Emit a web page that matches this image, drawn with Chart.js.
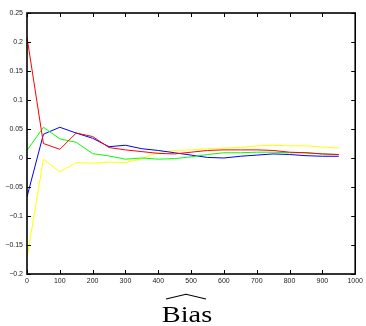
<!DOCTYPE html>
<html lang="en">
<head>
    <meta charset="UTF-8">
    <title>Bias</title>
    <script src="https://cdn.jsdelivr.net/npm/chart.js"></script>
    <style>
        html, body { margin: 0; padding: 0; background: #fff; }
        canvas { display: block; }
    </style>
</head>
<body>
    <canvas id="biasChart" width="366" height="326"></canvas>

    <script>
        // sample sizes (x) and the four bias curves
        const xValues = [0, 50, 100, 150, 200, 250, 300, 350, 400, 450, 500, 550, 600, 650, 700, 750, 800, 850, 900, 950];
        const redSeries = [0.208, 0.025, 0.015, 0.043, 0.037, 0.018, 0.014, 0.011, 0.008, 0.007, 0.010, 0.013, 0.014, 0.014, 0.014, 0.013, 0.010, 0.009, 0.007, 0.006];
        const greenSeries = [0.013, 0.053, 0.033, 0.027, 0.0075, 0.0035, -0.002, 0.000, -0.002, -0.001, 0.002, 0.006, 0.009, 0.009, 0.010, 0.010, 0.009, 0.009, 0.007, 0.006];
        const blueSeries = [-0.067, 0.041, 0.053, 0.043, 0.034, 0.0195, 0.022, 0.016, 0.013, 0.009, 0.005, 0.001, 0.000, 0.003, 0.005, 0.007, 0.006, 0.004, 0.003, 0.003];
        const yellowSeries = [-0.172, -0.002, -0.024, -0.008, -0.009, -0.007, -0.008, -0.001, 0.010, 0.013, 0.014, 0.016, 0.017, 0.018, 0.021, 0.022, 0.021, 0.021, 0.019, 0.017];

        const xTicks = [0, 100, 200, 300, 400, 500, 600, 700, 800, 900, 1000];
        const yTicks = [-0.2, -0.15, -0.1, -0.05, 0, 0.05, 0.1, 0.15, 0.2, 0.25];
        const titleText = 'Bias';

        const toPoints = ys => ys.map((y, i) => ({ x: xValues[i], y: y }));
        const fmt = v => String(Math.round(v * 100) / 100).replace('-', '\u2212');

        // MATLAB style box: frame plus inward ticks on all four sides, and the hatted label
        const boxPlugin = {
            id: 'boxPlugin',
            afterDraw(chart) {
                const { ctx, chartArea: a, scales } = chart;
                const len = 4;
                ctx.save();
                ctx.strokeStyle = '#000';
                ctx.lineWidth = 1;
                ctx.beginPath();
                xTicks.forEach(v => {
                    const px = Math.round(scales.x.getPixelForValue(v)) + 0.5;
                    ctx.moveTo(px, a.bottom); ctx.lineTo(px, a.bottom - len);
                    ctx.moveTo(px, a.top); ctx.lineTo(px, a.top + len);
                });
                yTicks.forEach(v => {
                    const py = Math.round(scales.y.getPixelForValue(v)) + 0.5;
                    ctx.moveTo(a.left, py); ctx.lineTo(a.left + len, py);
                    ctx.moveTo(a.right, py); ctx.lineTo(a.right - len, py);
                });
                ctx.stroke();
                ctx.lineWidth = 1.6;
                ctx.strokeRect(a.left, a.top, a.right - a.left, a.bottom - a.top);

                // label with wide hat (TeX-like, so stretched a little)
                const cx = 187;
                ctx.fillStyle = '#000';
                ctx.font = '24px "Liberation Serif", "DejaVu Serif", serif';
                ctx.textAlign = 'center';
                ctx.textBaseline = 'alphabetic';
                ctx.save();
                ctx.translate(cx, 322);
                ctx.scale(1.18, 1);
                ctx.fillText(titleText, 0, 0);
                ctx.restore();
                ctx.lineWidth = 1.1;
                ctx.beginPath();
                ctx.moveTo(166, 299);
                ctx.lineTo(186, 294.3);
                ctx.lineTo(206, 299);
                ctx.stroke();
                ctx.restore();
            }
        };

        const ctx = document.getElementById('biasChart').getContext('2d');
        new Chart(ctx, {
            type: 'line',
            data: {
                datasets: [
                    { data: toPoints(redSeries), borderColor: '#ff0000' },
                    { data: toPoints(greenSeries), borderColor: '#00ff00' },
                    { data: toPoints(blueSeries), borderColor: '#0000ff' },
                    { data: toPoints(yellowSeries), borderColor: '#ffff00' }
                ]
            },
            options: {
                responsive: false,
                animation: false,
                layout: { padding: { top: 13, right: 9, bottom: 38, left: 0 } },
                elements: {
                    point: { radius: 0 },
                    line: { borderWidth: 1, tension: 0 }
                },
                plugins: {
                    legend: { display: false },
                    tooltip: { enabled: false }
                },
                scales: {
                    x: {
                        type: 'linear',
                        min: 0,
                        max: 1000,
                        afterBuildTicks: s => { s.ticks = xTicks.map(v => ({ value: v })); },
                        afterFit: s => { s.height = 14; },
                        grid: { display: false, drawTicks: false },
                        border: { display: false },
                        ticks: {
                            padding: 3,
                            maxRotation: 0,
                            autoSkip: false,
                            color: '#222',
                            font: { family: '"Liberation Sans", Arial, sans-serif', size: 7 },
                            callback: v => fmt(v)
                        }
                    },
                    y: {
                        min: -0.2,
                        max: 0.25,
                        afterBuildTicks: s => { s.ticks = yTicks.map(v => ({ value: v })); },
                        afterFit: s => { s.width = 27; },
                        grid: { display: false, drawTicks: false },
                        border: { display: false },
                        ticks: {
                            padding: 4,
                            autoSkip: false,
                            color: '#222',
                            font: { family: '"Liberation Sans", Arial, sans-serif', size: 7 },
                            callback: v => fmt(v)
                        }
                    }
                }
            },
            plugins: [boxPlugin]
        });
    </script>
</body>
</html>
